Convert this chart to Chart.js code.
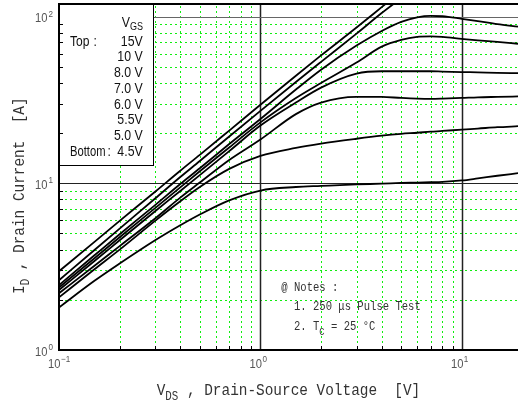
<!DOCTYPE html>
<html>
<head>
<meta charset="utf-8">
<script src="https://cdn.jsdelivr.net/npm/chart.js@4.4.1/dist/chart.umd.min.js"></script>
<style>
  html, body { margin: 0; padding: 0; background: #fff; }
  #wrap { width: 518px; height: 407px; position: relative; }
</style>
</head>
<body>
<div id="wrap"><canvas id="myChart"></canvas></div>
<script>
// V_DS sample points [V]
const vds = [0.1, 0.15, 0.2, 0.3, 0.4, 0.5, 0.7, 1, 1.5, 2, 3, 4, 5, 6, 7, 8, 10, 12, 15, 19];

// I_D [A] for each V_GS (null = off the top of the chart)
const id15V = [2.97, 4.45, 5.95, 8.9, 11.9, 14.8, 20.7, 29.6, 44.2, 58.5, 86, 114, 142, null, null, null, null, null, null, null];
const id10V = [2.62, 3.98, 5.35, 8.1, 10.9, 13.6, 19.1, 27.2, 40.5, 53.5, 79, 105, 129, null, null, null, null, null, null, null];
const id8V  = [2.45, 3.7, 4.95, 7.4, 9.9, 12.3, 17.2, 24.3, 36.5, 48, 67, 82, 93, 99, 101, 100.5, 97, 94, 90, 87];
const id7V  = [2.37, 3.55, 4.75, 7.1, 9.45, 11.8, 16.4, 23.2, 32.5, 40, 53, 66, 72.5, 75.5, 76, 75.5, 73.5, 72, 70.5, 68.7];
const id6V  = [2.29, 3.42, 4.55, 6.8, 9.0, 11.2, 15.6, 22.2, 30.5, 37.5, 45.5, 47, 47, 47, 47, 46.8, 46.5, 46.3, 46, 45.8];
const id55V = [2.19, 3.2, 4.2, 6.15, 8.2, 10.1, 13.8, 18.3, 26, 30.5, 33, 33, 32.5, 32.2, 32.1, 32.2, 32.5, 32.8, 33, 33.2];
const id5V  = [2.07, 3.05, 4.0, 5.95, 7.8, 9.5, 12.2, 14.6, 16.3, 17.3, 18.5, 19.3, 19.8, 20.1, 20.4, 20.6, 21, 21.3, 21.7, 22];
const id45V = [1.8, 2.6, 3.3, 4.55, 5.6, 6.5, 7.9, 9.05, 9.5, 9.65, 9.85, 9.95, 10.05, 10.1, 10.15, 10.2, 10.4, 10.7, 11.1, 11.5];

const gateLabels = ['15V', '10 V', '8.0 V', '7.0 V', '6.0 V', '5.5V', '5.0 V', '4.5V'];
const currents = [id15V, id10V, id8V, id7V, id6V, id55V, id5V, id45V];

// axis range and decade labels
const xMin = 0.1, xMax = 19;
const yMin = 1, yMax = 119;
const xTickVals = [0.1, 1, 10];
const xTickExp = ['\u22121', '0', '1'];
const yTickVals = [1, 10, 100];
const yTickExp = ['0', '1', '2'];

const notes = ['@ Notes :', '1. 250 \u03bcs Pulse Test'];

const MONO = '"Liberation Mono", "DejaVu Sans Mono", monospace';
const SANS = '"Liberation Sans", Arial, sans-serif';

// draw text squeezed horizontally by sx, returns right end
function txt(ctx, s, x, y, font, sx, align) {
  ctx.save();
  ctx.font = font;
  ctx.textAlign = 'left';
  ctx.textBaseline = 'alphabetic';
  const w = ctx.measureText(s).width * sx;
  let x0 = x;
  if (align === 'right') x0 = x - w;
  if (align === 'center') x0 = x - w / 2;
  ctx.translate(x0, y);
  ctx.scale(sx, 1);
  ctx.fillText(s, 0, 0);
  ctx.restore();
  return x0 + w;
}

function minorValues(min, max) {
  const out = [];
  for (let d = Math.floor(Math.log10(min)); d <= Math.ceil(Math.log10(max)); d++) {
    for (let k = 2; k <= 9; k++) {
      const v = k * Math.pow(10, d);
      if (v > min && v < max) out.push(v);
    }
  }
  return out;
}

const frame = {
  id: 'frame',
  beforeDatasetsDraw(chart) {
    const { ctx, chartArea: a, scales: { x, y } } = chart;
    ctx.save();
    // dotted green minor grid, as crisp pixel dots
    ctx.fillStyle = '#10ee10';
    const l = Math.round(a.left), r = Math.round(a.right);
    const t = Math.round(a.top), b = Math.round(a.bottom);
    minorValues(xMin, xMax).forEach(v => {
      const px = Math.round(x.getPixelForValue(v));
      for (let yy = b - 2; yy > t; yy -= 5) ctx.fillRect(px, yy - 2, 1, 2);
    });
    minorValues(yMin, yMax).forEach(v => {
      const py = Math.round(y.getPixelForValue(v));
      for (let xx = l + 1; xx < r; xx += 5) ctx.fillRect(xx, py, 2, 1);
    });
    // solid decade lines
    ctx.strokeStyle = '#222';
    ctx.lineWidth = 1.5;
    [1, 10].forEach(v => {
      const px = Math.round(x.getPixelForValue(v)) + 0.5;
      ctx.beginPath(); ctx.moveTo(px, a.bottom); ctx.lineTo(px, a.top); ctx.stroke();
    });
    ctx.lineWidth = 1.2;
    let py = Math.round(y.getPixelForValue(10)) + 0.5;
    ctx.beginPath(); ctx.moveTo(a.left, py); ctx.lineTo(a.right, py); ctx.stroke();
    ctx.strokeStyle = '#666';
    py = Math.round(y.getPixelForValue(100)) + 0.5;
    ctx.beginPath(); ctx.moveTo(a.left, py); ctx.lineTo(a.right, py); ctx.stroke();
    ctx.restore();
  },
  afterDatasetsDraw(chart) {
    const { ctx, chartArea: a, scales: { x, y } } = chart;
    ctx.save();

    // legend box
    const boxR = 153.5, boxB = 165.5;
    ctx.fillStyle = '#fff';
    ctx.fillRect(a.left, a.top, boxR - a.left, boxB - a.top);
    ctx.strokeStyle = '#000';
    ctx.lineWidth = 1;
    ctx.strokeRect(a.left, a.top, boxR - a.left, boxB - a.top);

    // axes frame
    ctx.lineWidth = 2;
    ctx.beginPath();
    ctx.moveTo(a.right, a.top); ctx.lineTo(a.left, a.top);
    ctx.lineTo(a.left, a.bottom); ctx.lineTo(a.right, a.bottom);
    ctx.stroke();

    // inward minor ticks
    ctx.lineWidth = 1;
    minorValues(xMin, xMax).forEach(v => {
      const px = Math.round(x.getPixelForValue(v)) + 0.5;
      ctx.beginPath(); ctx.moveTo(px, a.bottom); ctx.lineTo(px, a.bottom - 4); ctx.stroke();
    });
    minorValues(yMin, yMax).forEach(v => {
      const py = Math.round(y.getPixelForValue(v)) + 0.5;
      ctx.beginPath(); ctx.moveTo(a.left, py); ctx.lineTo(a.left + 4, py); ctx.stroke();
    });

    // decade tick labels
    ctx.fillStyle = '#555';
    xTickVals.forEach((v, i) => {
      const px = x.getPixelForValue(v);
      const e = txt(ctx, '10', px + 1.5, 368, '13px ' + SANS, 0.86, 'right');
      txt(ctx, xTickExp[i], e + 0.5, 361.5, '9px ' + SANS, 0.9);
    });
    yTickVals.forEach((v, i) => {
      const py = y.getPixelForValue(v);
      txt(ctx, '10', 47.5, py + 5.5, '13px ' + SANS, 0.86, 'right');
      txt(ctx, yTickExp[i], 48.5, py, '9px ' + SANS, 0.9);
    });

    // legend text
    ctx.fillStyle = '#111';
    const lf = '14px ' + SANS;
    let e = txt(ctx, 'V', 121.7, 26.5, lf, 0.88);
    txt(ctx, 'GS', e, 30, '10px ' + SANS, 0.9);
    const rowY = i => 45.7 + i * 15.7;
    txt(ctx, 'Top', 70, rowY(0), lf, 0.86);
    txt(ctx, ':', 93.5, rowY(0), lf, 0.86);
    txt(ctx, 'Bottom', 70, rowY(7), lf, 0.8);
    txt(ctx, ':', 107.5, rowY(7), lf, 0.86);
    gateLabels.forEach((g, i) => {
      txt(ctx, g, 142.7, rowY(i), lf, 0.88, 'right');
    });

    // axis titles
    ctx.fillStyle = '#333';
    const tf = '16px ' + MONO, sf = '12px ' + MONO;
    e = txt(ctx, 'V', 156.7, 395, tf, 0.9);
    e = txt(ctx, 'DS', e, 400, sf, 0.9);
    txt(ctx, ' , Drain-Source Voltage  [V]', e, 395, tf, 0.9);

    ctx.save();
    ctx.translate(24, 294);
    ctx.rotate(-Math.PI / 2);
    e = txt(ctx, 'I', 0, 0, tf, 0.9);
    e = txt(ctx, 'D', e, 5, sf, 0.9);
    txt(ctx, ' , Drain Current  [A]', e, 0, tf, 0.9);
    ctx.restore();

    // notes
    const nf = '12px ' + MONO;
    txt(ctx, notes[0], 281.3, 290.5, nf, 0.88);
    txt(ctx, notes[1], 294, 310, nf, 0.88);
    e = txt(ctx, '2. T', 294, 330, nf, 0.88);
    e = txt(ctx, 'C', e, 335, '10px ' + MONO, 0.88);
    txt(ctx, ' = 25 \u00b0C', e, 330, nf, 0.88);

    ctx.restore();
  }
};

const ctx = document.getElementById('myChart');

new Chart(ctx, {
  type: 'line',
  data: {
    datasets: currents.map((ys, i) => ({
      label: gateLabels[i],
      data: vds.map((v, j) => ({ x: v, y: ys[j] })),
      borderColor: '#000',
      borderWidth: 1.8,
      pointRadius: 0,
      fill: false,
      cubicInterpolationMode: 'monotone'
    }))
  },
  options: {
    responsive: true,
    maintainAspectRatio: false,
    animation: false,
    layout: { padding: { left: 59, right: 0, top: 4, bottom: 57 } },
    scales: {
      x: { type: 'logarithmic', min: xMin, max: xMax, display: false },
      y: { type: 'logarithmic', min: yMin, max: yMax, display: false }
    },
    plugins: {
      legend: { display: false },
      tooltip: { enabled: false }
    }
  },
  plugins: [frame]
});
</script>
</body>
</html>
